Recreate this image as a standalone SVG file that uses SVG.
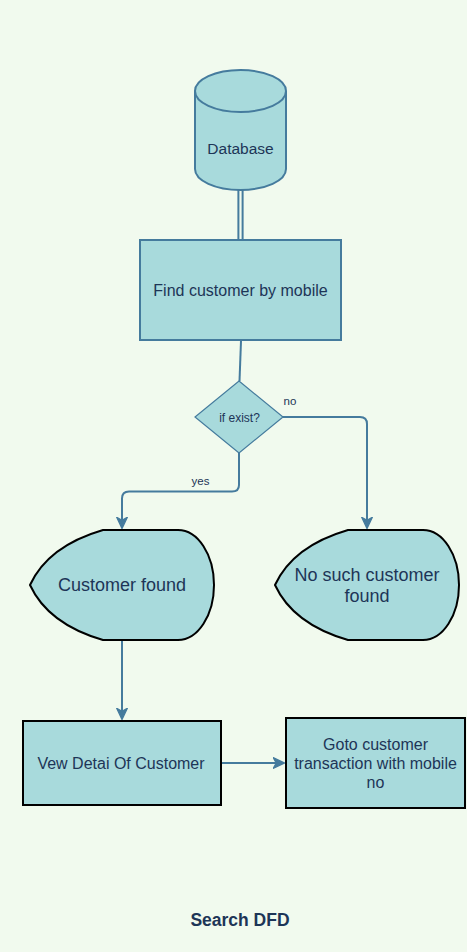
<svg xmlns="http://www.w3.org/2000/svg" width="467" height="952" viewBox="0 0 467 952">
<style>
.t{font-family:"Liberation Sans",Arial,Helvetica,sans-serif;fill:#1D3557;text-anchor:middle}
.n{fill:#A8DADC;stroke:#457B9D;stroke-width:2}
.k{fill:#A8DADC;stroke:#000;stroke-width:2}
.c{fill:none;stroke:#457B9D;stroke-width:2}
</style>
<defs>
<marker id="arr" markerUnits="userSpaceOnUse" markerWidth="12" markerHeight="12" refX="9" refY="5" orient="auto" viewBox="0 0 10 10">
<path d="M0,0.5 L9.5,5 L0,9.5 L2.5,5 Z" fill="#457B9D" stroke="#457B9D" stroke-width="1"/>
</marker>
</defs>
<rect x="0" y="0" width="467" height="952" fill="#F1FAEE"/>
<g id="connectors">
<line x1="238.4" y1="190" x2="238.4" y2="240" stroke="#457B9D" stroke-width="2"/>
<line x1="242.6" y1="190" x2="242.6" y2="240" stroke="#457B9D" stroke-width="2"/>
<path class="c" d="M241,341 L239.5,381"/>
<path class="c" d="M283,417 L360,417 Q367,417 367,424 L367,528" marker-end="url(#arr)"/>
<path class="c" d="M239,453 L239,485 Q239,491.5 232,491.5 L129,491.5 Q122,491.5 122,498.5 L122,528" marker-end="url(#arr)"/>
<path class="c" d="M122,640 L122,719" marker-end="url(#arr)"/>
<path class="c" d="M221,763 L284,763" marker-end="url(#arr)"/>
<text class="t" x="290" y="405" font-size="11.5">no</text>
<text class="t" x="200.5" y="485" font-size="11.5">yes</text>
</g>
<g id="database">
<path class="n" d="M195,91 L195,169 A45.5,21 0 0 0 286,169 L286,91 A45.5,21 0 0 0 195,91 Z"/>
<path class="n" d="M195,91 A45.5,21 0 0 0 286,91" fill="none"/>
<text class="t" x="240.5" y="154" font-size="15.5">Database</text>
</g>
<g id="find">
<rect class="n" x="140" y="240" width="201" height="100"/>
<text class="t" x="240.5" y="296" font-size="16">Find customer by mobile</text>
</g>
<g id="ifexist">
<path d="M239,381 L283,417 L239,453 L195,417 Z" fill="#A8DADC" stroke="#457B9D" stroke-width="1.2"/>
<text class="t" x="239.5" y="421.5" font-size="12">if exist?</text>
</g>
<g id="found">
<path class="k" d="M30,585 Q48,546 103,530 L178,530 C198,530 214,555 214,585 C214,615 198,640 178,640 L103,640 Q48,624 30,585 Z"/>
<text class="t" x="122" y="591" font-size="18">Customer found</text>
</g>
<g id="notfound">
<path class="k" d="M275,585 Q293,546 348,530 L423,530 C443,530 459,555 459,585 C459,615 443,640 423,640 L348,640 Q293,624 275,585 Z"/>
<text class="t" x="367" y="581" font-size="18">No such customer</text>
<text class="t" x="367" y="602" font-size="18">found</text>
</g>
<g id="view">
<rect class="k" x="23" y="721" width="198" height="84"/>
<text class="t" x="121" y="769" font-size="16">Vew Detai Of Customer</text>
</g>
<g id="goto">
<rect class="k" x="286" y="718" width="179" height="90"/>
<text class="t" x="375.5" y="750" font-size="16">Goto customer</text>
<text class="t" x="375.5" y="769" font-size="16">transaction with mobile</text>
<text class="t" x="375.5" y="788" font-size="16">no</text>
</g>
<g id="title">
<text class="t" x="240" y="926" font-size="17.5" font-weight="bold">Search DFD</text>
</g>
</svg>
